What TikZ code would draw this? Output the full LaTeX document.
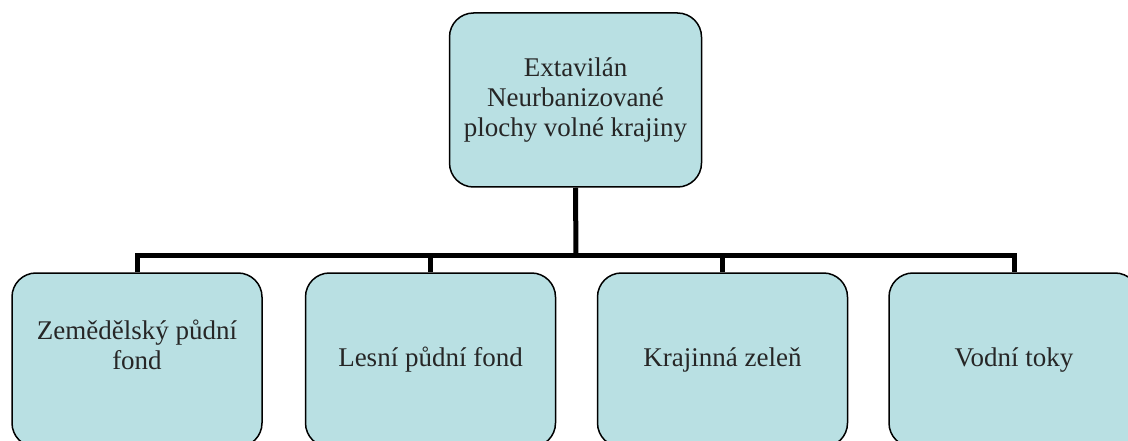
\documentclass[tikz,border=0pt]{standalone}
\usepackage{fontspec}
\setmainfont{Liberation Serif}
\definecolor{boxfill}{RGB}{185,224,227}
\definecolor{boxtext}{RGB}{38,38,38}
\begin{document}
\begin{tikzpicture}[x=1pt,y=-1pt,line join=miter,
  box/.style={draw=black,line width=1.5pt,fill=boxfill,rounded corners=24pt,minimum width=250pt,minimum height=174pt,align=center,text=boxtext,font=\fontsize{27}{30}\selectfont},
  conn/.style={line width=5pt}]
\useasboundingbox(0,0)rectangle(1128,441);
\clip(0,0)rectangle(1128,441);
\node[box,minimum width=252pt](ext)at(575.5,100){Extavilán\\Neurbanizované\\plochy volné krajiny};
\node[box](zpf)at(137,360){Zemědělský půdní\\fond\\\mbox{}};
\node[box](lpf)at(430.5,360){Lesní půdní fond};
\node[box](zel)at(722.5,360){Krajinná zeleň};
\node[box](vod)at(1014,360){Vodní toky};
\coordinate(bus)at(576,255.5);
\draw[conn](ext.south)--(bus);
\draw[conn](zpf.north)|-(vod.north|-bus)--(vod.north);
\draw[conn](lpf.north)--(lpf.north|-bus);
\draw[conn](zel.north)--(zel.north|-bus);
\end{tikzpicture}
\end{document}
